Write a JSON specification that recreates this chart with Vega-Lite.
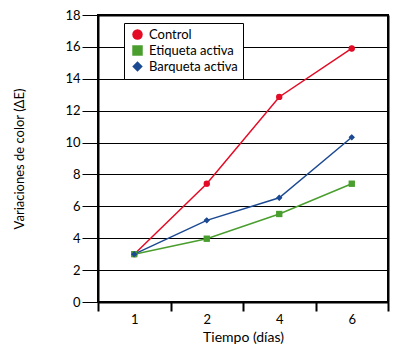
{
  "$schema": "https://vega.github.io/schema/vega-lite/v6.json",
  "width": 290,
  "height": 287,
  "autosize": "none",
  "padding": {"left": 98, "top": 15, "right": 9, "bottom": 51},
  "background": "white",
  "config": {
    "view": {"stroke": "black", "strokeWidth": 2},
    "font": "Lato"
  },
  "data": {
    "values": [
      {"dia": "1", "serie": "Control", "valor": 3.0},
      {"dia": "2", "serie": "Control", "valor": 7.42},
      {"dia": "4", "serie": "Control", "valor": 12.86},
      {"dia": "6", "serie": "Control", "valor": 15.9},
      {"dia": "1", "serie": "Etiqueta activa", "valor": 3.0},
      {"dia": "2", "serie": "Etiqueta activa", "valor": 3.97},
      {"dia": "4", "serie": "Etiqueta activa", "valor": 5.52},
      {"dia": "6", "serie": "Etiqueta activa", "valor": 7.42},
      {"dia": "1", "serie": "Barqueta activa", "valor": 3.0},
      {"dia": "2", "serie": "Barqueta activa", "valor": 5.12},
      {"dia": "4", "serie": "Barqueta activa", "valor": 6.54},
      {"dia": "6", "serie": "Barqueta activa", "valor": 10.33}
    ]
  },
  "encoding": {
    "color": {
      "field": "serie",
      "type": "nominal",
      "scale": {
        "domain": ["Control", "Etiqueta activa", "Barqueta activa"],
        "range": ["#e30b25", "#4a9e2e", "#1c4a92"]
      },
      "legend": {
        "title": null,
        "orient": "none",
        "legendX": 26,
        "legendY": 8,
        "fillColor": "white",
        "strokeColor": "black",
        "padding": 5,
        "labelFontSize": 13,
        "labelColor": "black",
        "symbolSize": 110,
        "symbolStrokeWidth": 0,
        "rowPadding": 2,
        "labelOffset": 5,
        "symbolOffset": 2,
        "labelLimit": 200,
        "zindex": 2
      }
    },
    "shape": {
      "field": "serie",
      "type": "nominal",
      "scale": {
        "domain": ["Control", "Etiqueta activa", "Barqueta activa"],
        "range": ["circle", "square", "diamond"]
      },
      "legend": null
    }
  },
  "layer": [
    {
      "mark": {"type": "line", "strokeWidth": 1.5},
      "encoding": {
        "x": {
          "field": "dia",
          "type": "ordinal",
          "bandPosition": 0.5,
          "sort": ["1", "2", "4", "6"],
          "scale": {"type": "band", "paddingInner": 0, "paddingOuter": 0},
          "axis": {
            "title": "Tiempo (días)",
            "titleFontSize": 14,
            "titleFontWeight": "normal",
            "titleColor": "black",
            "titlePadding": 4,
            "labelAngle": 0,
            "labelFontSize": 13,
            "labelColor": "black",
            "labelPadding": 2,
            "tickBand": "extent",
            "tickSize": 9,
            "tickColor": "black",
            "tickWidth": 2,
            "domainColor": "black",
            "domainWidth": 2,
            "grid": false
          }
        },
        "y": {
          "field": "valor",
          "type": "quantitative",
          "scale": {"domain": [0, 18], "nice": false},
          "axis": {
            "title": "Variaciones de color (ΔE)",
            "titleFontSize": 13,
            "titleFontWeight": "normal",
            "titleColor": "black",
            "titlePadding": 38,
            "values": [0, 2, 4, 6, 8, 10, 12, 14, 16, 18],
            "labelFontSize": 13,
            "labelColor": "black",
            "labelPadding": 2,
            "tickSize": 16,
            "tickColor": "black",
            "tickWidth": 1,
            "domainColor": "black",
            "domainWidth": 2,
            "grid": true,
            "gridColor": "black",
            "gridWidth": 1,
            "gridOpacity": 1
          }
        }
      }
    },
    {
      "mark": {"type": "point", "filled": true, "size": 40, "opacity": 1},
      "encoding": {
        "x": {
          "field": "dia",
          "type": "ordinal",
          "bandPosition": 0.5,
          "sort": ["1", "2", "4", "6"],
          "axis": {
            "orient": "top",
            "title": null,
            "labels": false,
            "ticks": false,
            "grid": false,
            "domainColor": "black",
            "domainWidth": 2
          }
        },
        "y": {
          "field": "valor",
          "type": "quantitative",
          "axis": {
            "orient": "right",
            "title": null,
            "labels": false,
            "ticks": false,
            "grid": false,
            "domainColor": "black",
            "domainWidth": 2
          }
        }
      }
    }
  ],
  "resolve": {"axis": {"x": "independent", "y": "independent"}}
}
